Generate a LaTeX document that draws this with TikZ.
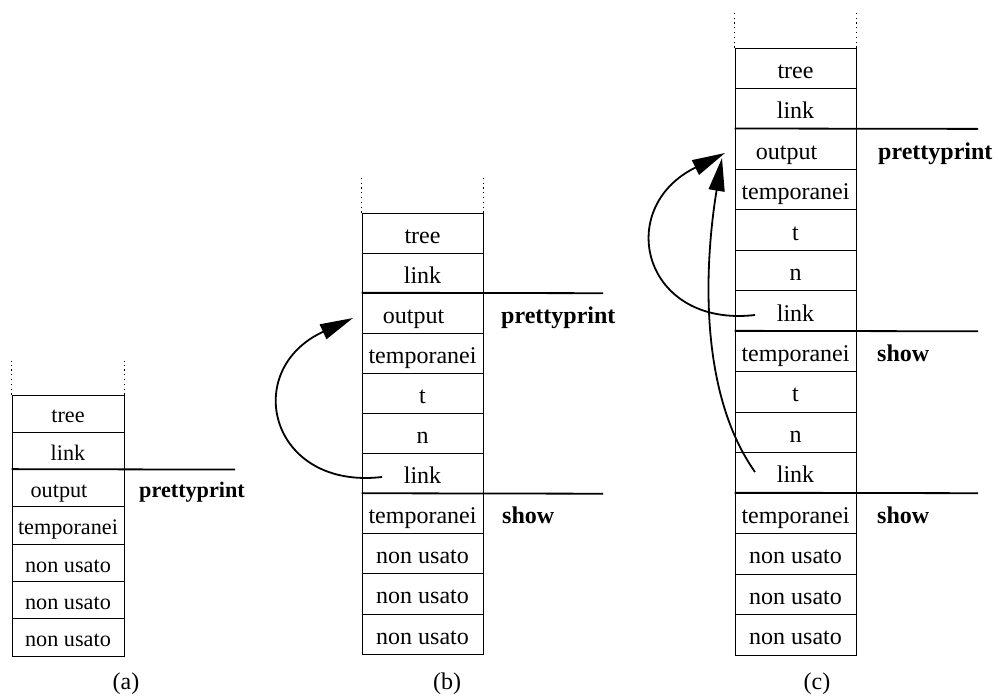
\documentclass[tikz,border=0pt]{standalone}
\usepackage{fontspec}
\setmainfont{Liberation Serif}
\usetikzlibrary{arrows.meta}
\begin{document}
\begin{tikzpicture}[x=1pt,y=-1pt,
  cellb/.style={draw, line width=0.9pt, minimum width=121pt, minimum height=40.1pt, inner sep=0pt,
    text height=22pt, text depth=2pt, font=\fontsize{24}{28}\selectfont},
  cellc/.style={cellb, minimum height=40.47pt},
  cella/.style={cellb, minimum width=112pt, minimum height=37.29pt, text height=20.5pt, text depth=1.8pt,
    font=\fontsize{22.2}{26}\selectfont},
  sepline/.style={line width=1.8pt},
  dotline/.style={line width=1pt, dash pattern=on 1.2pt off 3.6pt},
  proc/.style={font=\fontsize{24}{28}\selectfont\bfseries, anchor=base west, inner sep=0pt},
  proca/.style={proc, font=\fontsize{22.2}{26}\selectfont\bfseries},
  capt/.style={font=\fontsize{24}{28}\selectfont, anchor=base, inner sep=0pt},
  linkarrow/.style={line width=1.8pt, -{Triangle[length=33pt,width=16pt]}}
]
\useasboundingbox (0,0) rectangle (996,696);

% ---------- stack (a)
\foreach \t [count=\i] in {tree,link,{output\hspace*{18pt}},temporanei,non usato,non usato,non usato}
  \node[cella] (a\i) at (68, {395+18.645+(\i-1)*37.29}) {\t};
\draw[dotline] (a1.north west) -- ++(0,-34);
\draw[dotline] (a1.north east) -- ++(0,-34);
\coordinate (ae3) at (235, 469.58);
\draw[sepline] (a3.north west) -- (ae3);
\node[proca] (pa) at (139, 497.5) {prettyprint};

% ---------- stack (b)
\foreach \t [count=\i] in {tree,link,{output\hspace*{18pt}},temporanei,t,n,link,temporanei,non usato,non usato,non usato}
  \node[cellb] (b\i) at (422.5, {213+20.05+(\i-1)*40.1}) {\t};
\draw[dotline] (b1.north west) -- ++(0,-36);
\draw[dotline] (b1.north east) -- ++(0,-36);
\coordinate (be3) at (603, 293.2);
\coordinate (be8) at (603, 493.7);
\draw[sepline] (b3.north west) -- (be3);
\draw[sepline] (b8.north west) -- (be8);
\node[proc] (pb) at (501, 323.3) {prettyprint};
\node[proc] (sb) at (502, 523.8) {show};
\coordinate (bs) at (382, 477);
\coordinate (bt) at (353, 318);
\draw[linkarrow] (bs) .. controls (270,490) and (240,370) .. (bt);

% ---------- stack (c)
\foreach \t [count=\i] in {tree,link,{output\hspace*{18pt}},temporanei,t,n,link,temporanei,t,n,link,temporanei,non usato,non usato,non usato}
  \node[cellc] (c\i) at (795.5, {48+20.235+(\i-1)*40.47}) {\t};
\draw[dotline] (c1.north west) -- ++(0,-36);
\draw[dotline] (c1.north east) -- ++(0,-36);
\coordinate (ce3) at (978, 128.9);
\coordinate (ce8) at (978, 331.3);
\coordinate (ce12) at (978, 493.2);
\draw[sepline] (c3.north west) -- (ce3);
\draw[sepline] (c8.north west) -- (ce8);
\draw[sepline] (c12.north west) -- (ce12);
\node[proc] (pc) at (878, 159) {prettyprint};
\node[proc] (sc1) at (877, 361.5) {show};
\node[proc] (sc2) at (877, 523.4) {show};
\coordinate (cs1) at (755, 315);
\coordinate (ct1) at (725, 153);
\draw[linkarrow] (cs1) .. controls (643,328) and (613,208) .. (ct1);
\coordinate (cs2) at (755, 472);
\coordinate (ct2) at (722, 158);
\draw[linkarrow] (cs2) .. controls (690,380) and (710,230) .. (ct2);

% ---------- captions
\node[capt] (la) at (126, 689) {(a)};
\node[capt] (lb) at (447, 689) {(b)};
\node[capt] (lc) at (817, 689) {(c)};
\end{tikzpicture}
\end{document}
